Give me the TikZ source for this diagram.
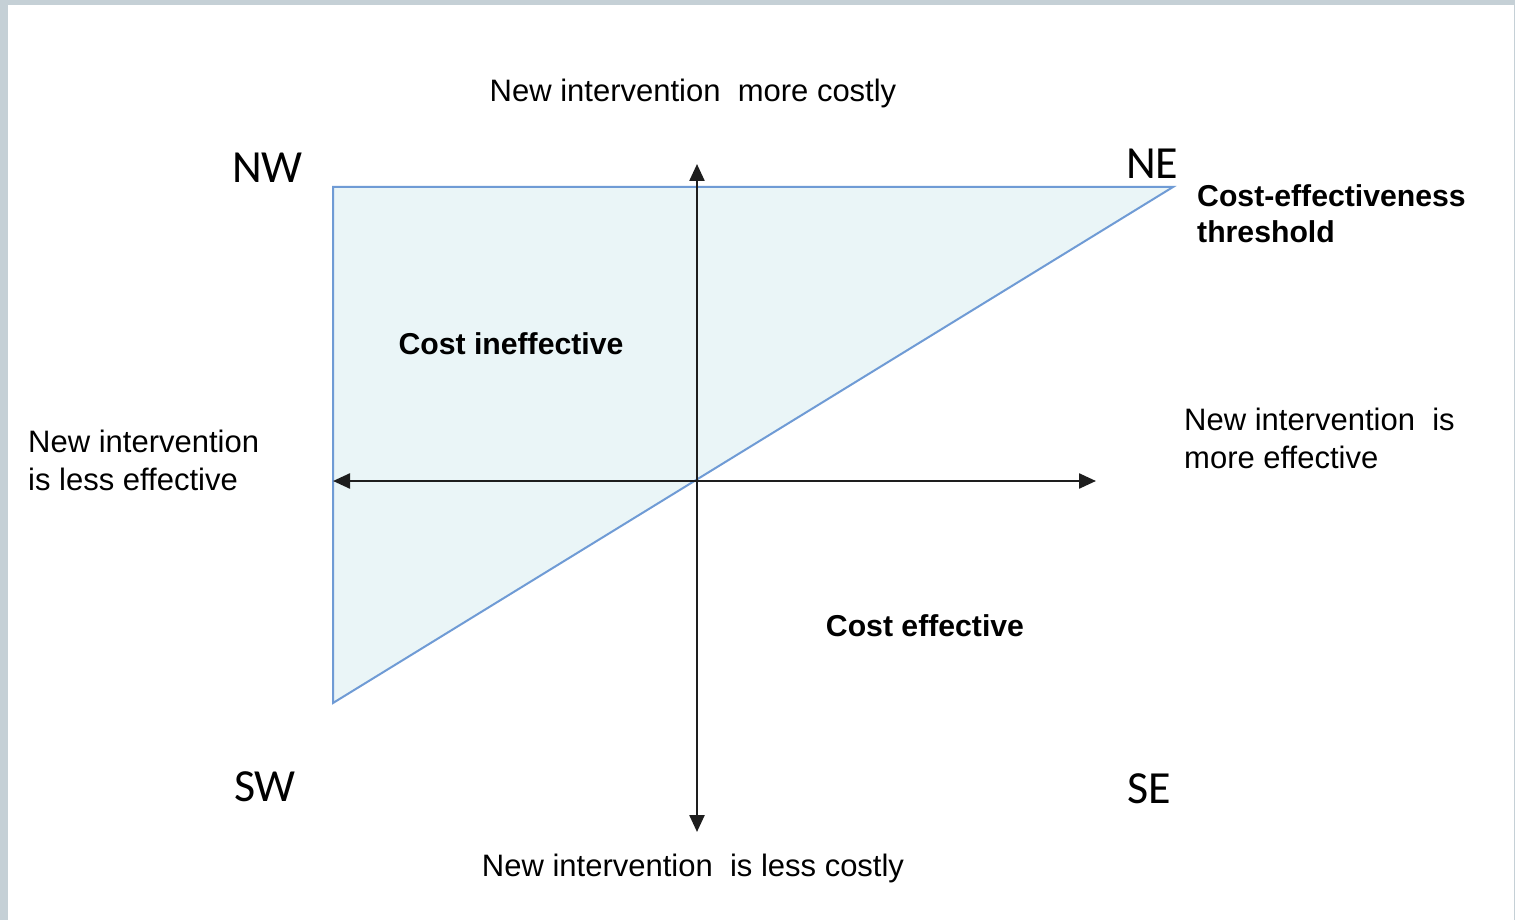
\documentclass[tikz,border=0pt]{standalone}
\usepackage{fontspec}
\setmainfont{Liberation Sans}
\newfontfamily\calibfont{Carlito}
\usetikzlibrary{arrows.meta}
\definecolor{framegrey}{RGB}{197,208,214}
\definecolor{lineblue}{RGB}{111,155,213}
\definecolor{fillcyan}{RGB}{234,245,247}
\definecolor{axisgrey}{RGB}{30,30,30}
\tikzset{
  lbl/.style={inner sep=0pt, font=\fontsize{31}{38}\selectfont},
  blbl/.style={inner sep=0pt, font=\fontsize{30.2}{36}\selectfont\bfseries},
  corner/.style={inner sep=0pt, font=\fontsize{46}{50}\selectfont\calibfont},
  axis/.style={draw=axisgrey, line width=2.4pt, -{Triangle[length=17pt,width=15pt]}},
  region/.style={draw=lineblue, line width=2pt, fill=fillcyan, line join=miter},
}
\begin{document}
\begin{tikzpicture}[x=1pt,y=-1pt]
\useasboundingbox (0,0) rectangle (1515,920);
\fill[framegrey] (0,0) rectangle (1515,920);
\fill[white] (8,5) rectangle (1513.5,920);
% region
\coordinate (nw) at (333,187);
\coordinate (ne) at (1173,187);
\coordinate (sw) at (333,703);
\coordinate (o) at (697,481);
\draw[region] (sw) -- (nw) -- (ne) -- cycle;
% axes
\coordinate (up) at (697,164);
\coordinate (down) at (697,832);
\coordinate (left) at (333,481);
\coordinate (right) at (1096,481);
\draw[axis] (o) -- (up);
\draw[axis] (o) -- (down);
\draw[axis] (o) -- (left);
\draw[axis] (o) -- (right);
% labels
\node[lbl, anchor=base] (top) at (693,102) {New intervention\ \ more costly};
\node[lbl, anchor=base] (bottom) at (693,876) {New intervention\ \ is less costly};
\node[corner, anchor=base west] (NW) at (232,183) {NW};
\node[corner, anchor=base west] (NE) at (1126,179) {NE};
\node[corner, anchor=base west] (SW) at (234,801) {SW};
\node[corner, anchor=base west] (SE) at (1127,803) {SE};
\node[blbl, anchor=west, align=left] (thr) at (1197,214) {Cost-effectiveness\\threshold};
\node[blbl, anchor=base] (ci) at (511,354) {Cost ineffective};
\node[blbl, anchor=base] (ce) at (925,636) {Cost effective};
\node[lbl, anchor=west, align=left] (less) at (28,460) {New intervention\\is less effective};
\node[lbl, anchor=west, align=left] (more) at (1184,438) {New intervention\ \ is\\more effective};
\end{tikzpicture}
\end{document}
